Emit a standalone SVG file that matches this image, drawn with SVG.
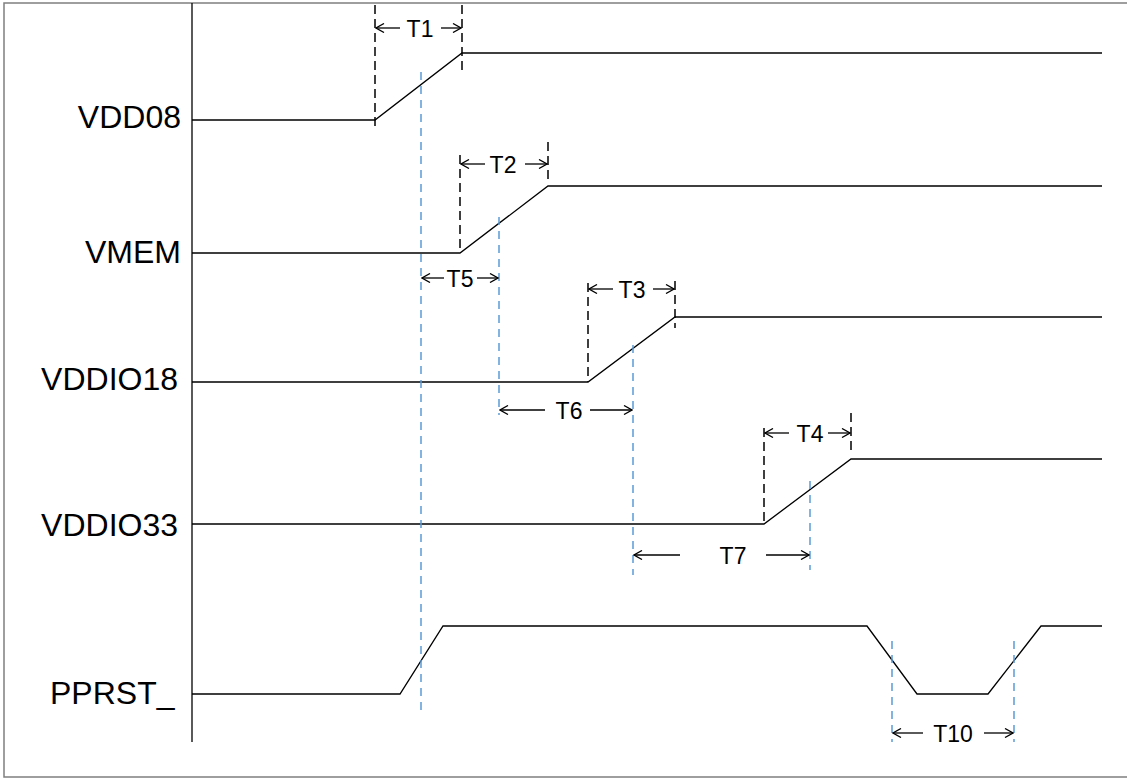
<svg xmlns="http://www.w3.org/2000/svg" width="1127" height="778" viewBox="0 0 1127 778">
<defs>
<style>
.sig{fill:none;stroke:#000;stroke-width:1.3}
.bd{fill:none;stroke:#000;stroke-width:1.5;stroke-dasharray:9 5}
.bl{fill:none;stroke:#5b9bd5;stroke-width:1.5;stroke-dasharray:8 6}
.dim{fill:none;stroke:#000;stroke-width:1.3;marker-end:url(#ah)}
.lbl{font-family:"Liberation Sans",Arial,sans-serif;font-size:32px;fill:#000}
.tl{font-family:"Liberation Sans",Arial,sans-serif;font-size:23px;fill:#000;text-anchor:middle}
</style>
<marker id="ah" viewBox="0 0 10 10" refX="9" refY="5" markerWidth="10" markerHeight="10" markerUnits="userSpaceOnUse" orient="auto">
<polyline points="1,0.5 9,5 1,9.5" fill="none" stroke="#000" stroke-width="1.3"/>
</marker>
</defs>
<rect x="0" y="0" width="1127" height="778" fill="#fff"/>
<g id="frame">
<polyline points="1130,3 4,3 4,777 1130,777" fill="none" stroke="#7f7f7f" stroke-width="1.5"/>
<line x1="192" y1="3" x2="192" y2="742" stroke="#000" stroke-width="1.3"/>
</g>
<g id="labels">
<text class="lbl" x="181" y="128" text-anchor="end">VDD08</text>
<text class="lbl" x="181" y="263" text-anchor="end">VMEM</text>
<text class="lbl" x="178" y="390" text-anchor="end">VDDIO18</text>
<text class="lbl" x="178" y="536" text-anchor="end">VDDIO33</text>
<text class="lbl" x="50" y="704">PPRST_</text>
</g>
<g id="signals">
<polyline id="vdd08" class="sig" points="192,120 375,120 462,53 1102,53"/>
<polyline id="vmem" class="sig" points="192,253 460,253 548,186 1102,186"/>
<polyline id="vddio18" class="sig" points="192,382 588,382 675,317 1102,317"/>
<polyline id="vddio33" class="sig" points="192,524 764,524 851,459 1102,459"/>
<polyline id="pprst" class="sig" points="192,694 400,694 443,626 867,626 917,694 988,694 1041,626 1102,626"/>
</g>
<g id="connectors">
<line class="bd" x1="375" y1="5" x2="375" y2="127"/>
<line class="bd" x1="462" y1="5" x2="462" y2="72"/>
<line class="bd" x1="460" y1="155" x2="460" y2="253"/>
<line class="bd" x1="548" y1="142" x2="548" y2="180"/>
<line class="bd" x1="588" y1="283" x2="588" y2="382"/>
<line class="bd" x1="675" y1="281" x2="675" y2="328"/>
<line class="bd" x1="764" y1="428" x2="764" y2="524"/>
<line class="bd" x1="851" y1="413" x2="851" y2="452"/>
<line class="bl" x1="421" y1="72" x2="421" y2="715"/>
<line class="bl" x1="499" y1="217" x2="499" y2="415"/>
<line class="bl" x1="633" y1="345" x2="633" y2="575"/>
<line class="bl" x1="810" y1="481" x2="810" y2="570"/>
<line class="bl" x1="892" y1="641" x2="892" y2="742"/>
<line class="bl" x1="1014" y1="641" x2="1014" y2="742"/>
<line class="dim" x1="400" y1="28" x2="376" y2="28"/>
<line class="dim" x1="441" y1="28" x2="461" y2="28"/>
<line class="dim" x1="485" y1="164" x2="461" y2="164"/>
<line class="dim" x1="525" y1="164" x2="547" y2="164"/>
<line class="dim" x1="613" y1="289" x2="589" y2="289"/>
<line class="dim" x1="653" y1="289" x2="674" y2="289"/>
<line class="dim" x1="789" y1="433" x2="765" y2="433"/>
<line class="dim" x1="828" y1="433" x2="850" y2="433"/>
<line class="dim" x1="444" y1="278" x2="422" y2="278"/>
<line class="dim" x1="477" y1="278" x2="498" y2="278"/>
<line class="dim" x1="545" y1="410" x2="500" y2="410"/>
<line class="dim" x1="590" y1="410" x2="632" y2="410"/>
<line class="dim" x1="680" y1="555" x2="634" y2="555"/>
<line class="dim" x1="766" y1="555" x2="809" y2="555"/>
<line class="dim" x1="923" y1="733" x2="893" y2="733"/>
<line class="dim" x1="984" y1="733" x2="1013" y2="733"/>
</g>
<g id="timing-labels">
<text class="tl" x="420" y="37">T1</text>
<text class="tl" x="503" y="173">T2</text>
<text class="tl" x="632" y="298">T3</text>
<text class="tl" x="810" y="442">T4</text>
<text class="tl" x="460" y="287">T5</text>
<text class="tl" x="569" y="419">T6</text>
<text class="tl" x="733" y="564">T7</text>
<text class="tl" x="953" y="742">T10</text>
</g>
</svg>
